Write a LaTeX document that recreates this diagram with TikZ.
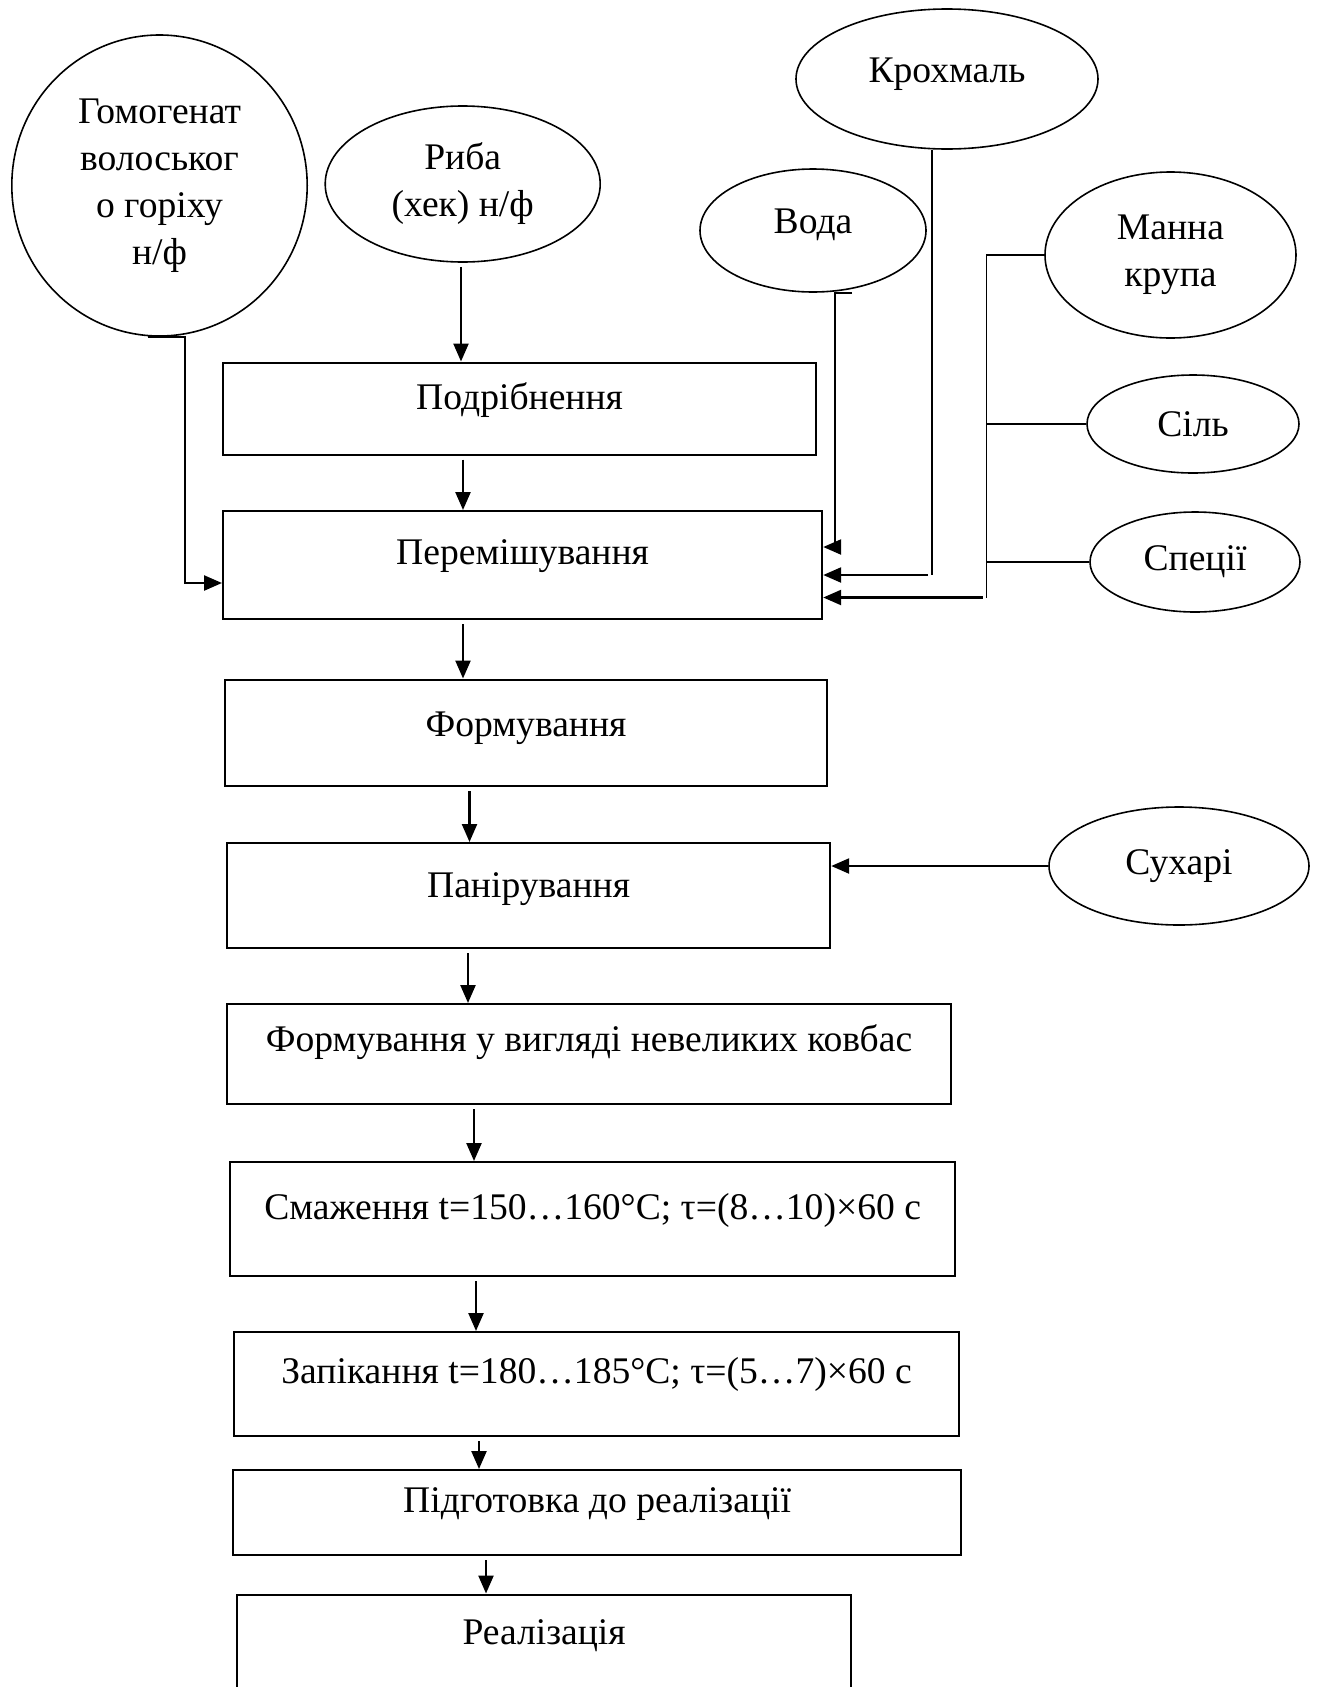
\documentclass[tikz,border=0pt]{standalone}
\usepackage{fontspec}
\setmainfont{Liberation Serif}
\usetikzlibrary{shapes.geometric,arrows.meta}

\begin{document}
\begin{tikzpicture}[x=0.5pt,y=-0.5pt,font=\fontsize{18.8}{23.5}\selectfont,
  stage/.style={draw,line width=1.1pt,inner ysep=0pt,anchor=north west},
  item/.style={draw,ellipse,line width=0.8pt,inner sep=0pt,align=center},
  arr/.style={-{Triangle[length=9pt,width=7.5pt]},line width=1.2pt,shorten <=2pt},
  feed/.style={line width=0.6pt}]
  \useasboundingbox (0,0) rectangle (1318,1687);

  % raw materials
  \node[item,minimum width=147.7pt,minimum height=150.5pt] (nut) at (159.5,185.5)
    {Гомогенат\\волоськог\\о горіху\\н/ф};
  \node[item,minimum width=137.5pt,minimum height=78pt] (fish) at (462.7,184) {Риба\\(хек) н/ф};
  \node[item,minimum width=151pt,minimum height=70pt,text depth=9pt] (starch) at (947,79) {Крохмаль};
  \node[item,minimum width=113pt,minimum height=61.5pt,text depth=9pt] (water) at (813,230.5) {Вода};
  \node[item,minimum width=125.5pt,minimum height=83pt] (semolina) at (1170.5,255) {Манна\\крупа};
  \node[item,minimum width=106pt,minimum height=49pt] (salt) at (1193,424) {Сіль};
  \node[item,minimum width=105pt,minimum height=50pt] (spice) at (1195,562) {Спеції};
  \node[item,minimum width=130pt,minimum height=59pt] (crumbs) at (1179,866) {Сухарі};

  % process steps
  \node[stage,minimum width=296.5pt,text height=23.25pt,text depth=22.75pt] (grind) at (222,361.5) {Подрібнення};
  \node[stage,minimum width=299.5pt,text height=26.5pt,text depth=27.5pt] (mix) at (222,510) {Перемішування};
  \node[stage,minimum width=301pt,text height=28.25pt,text depth=25pt] (form) at (224,678.5) {Формування};
  \node[stage,minimum width=301.5pt,text height=27pt,text depth=25.5pt] (bread) at (226,842) {Панірування};
  \node[stage,minimum width=362pt,text height=23.5pt,text depth=26.5pt] (shape) at (226,1003)
    {Формування у вигляді невеликих ковбас};
  \node[stage,minimum width=362.5pt,text height=28.5pt,text depth=28.5pt] (fry) at (229,1161)
    {Смаження t=150…160°C; τ=(8…10)×60 с};
  \node[stage,minimum width=362.5pt,text height=25.5pt,text depth=26.5pt] (bake) at (233,1331)
    {Запікання t=180…185°C; τ=(5…7)×60 с};
  \node[stage,minimum width=364pt,text height=21pt,text depth=21.5pt] (prep) at (232,1469) {Підготовка до реалізації};
  \node[stage,minimum width=307pt,text height=25pt,text depth=40pt] (sale) at (236,1593.5) {Реалізація};

  % bends of the side feeds
  \coordinate (nutbend) at (185,583);
  \coordinate (waterbend) at (835,547);
  \coordinate (starchbend) at (932,575);
  \coordinate (busend) at (986.5,597.5);

  % main line
  \draw[arr] (461,0 |- fish.south) -- (461,0 |- grind.north);
  \draw[arr] (463,0 |- grind.south) -- (463,0 |- mix.north);
  \draw[arr] (463,0 |- mix.south) -- (463,0 |- form.north);
  \draw[arr] (469.5,0 |- form.south) -- (469.5,0 |- bread.north);
  \draw[arr] (468,0 |- bread.south) -- (468,0 |- shape.north);
  \draw[arr] (474,0 |- shape.south) -- (474,0 |- fry.north);
  \draw[arr] (476,0 |- fry.south) -- (476,0 |- bake.north);
  \draw[arr] (479,0 |- bake.south) -- (479,0 |- prep.north);
  \draw[arr] (486,0 |- prep.south) -- (486,0 |- sale.north);

  % side feeds
  \draw[arr,shorten <=0pt] ([xshift=-6pt]nut.south) -| (nutbend) -- (nutbend -| mix.west);
  \draw[arr,shorten <=0pt] ([xshift=19.5pt]water.south) -| (waterbend) -- (waterbend -| mix.east);
  \draw[feed,line width=0.8pt] (starchbend |- starch.south) -- (starchbend);
  \draw[arr] (starchbend) -- (starchbend -| mix.east);
  \draw[feed] (semolina.west) -- (semolina.west -| busend) -- (busend);
  \draw[feed] (salt.west) -- (salt.west -| busend);
  \draw[feed] (spice.west) -- (spice.west -| busend);
  \draw[arr] (busend) -- (busend -| mix.east);
  \draw[arr,shorten <=0pt] (crumbs.west) -- (crumbs.west -| bread.east);
\end{tikzpicture}
\end{document}
